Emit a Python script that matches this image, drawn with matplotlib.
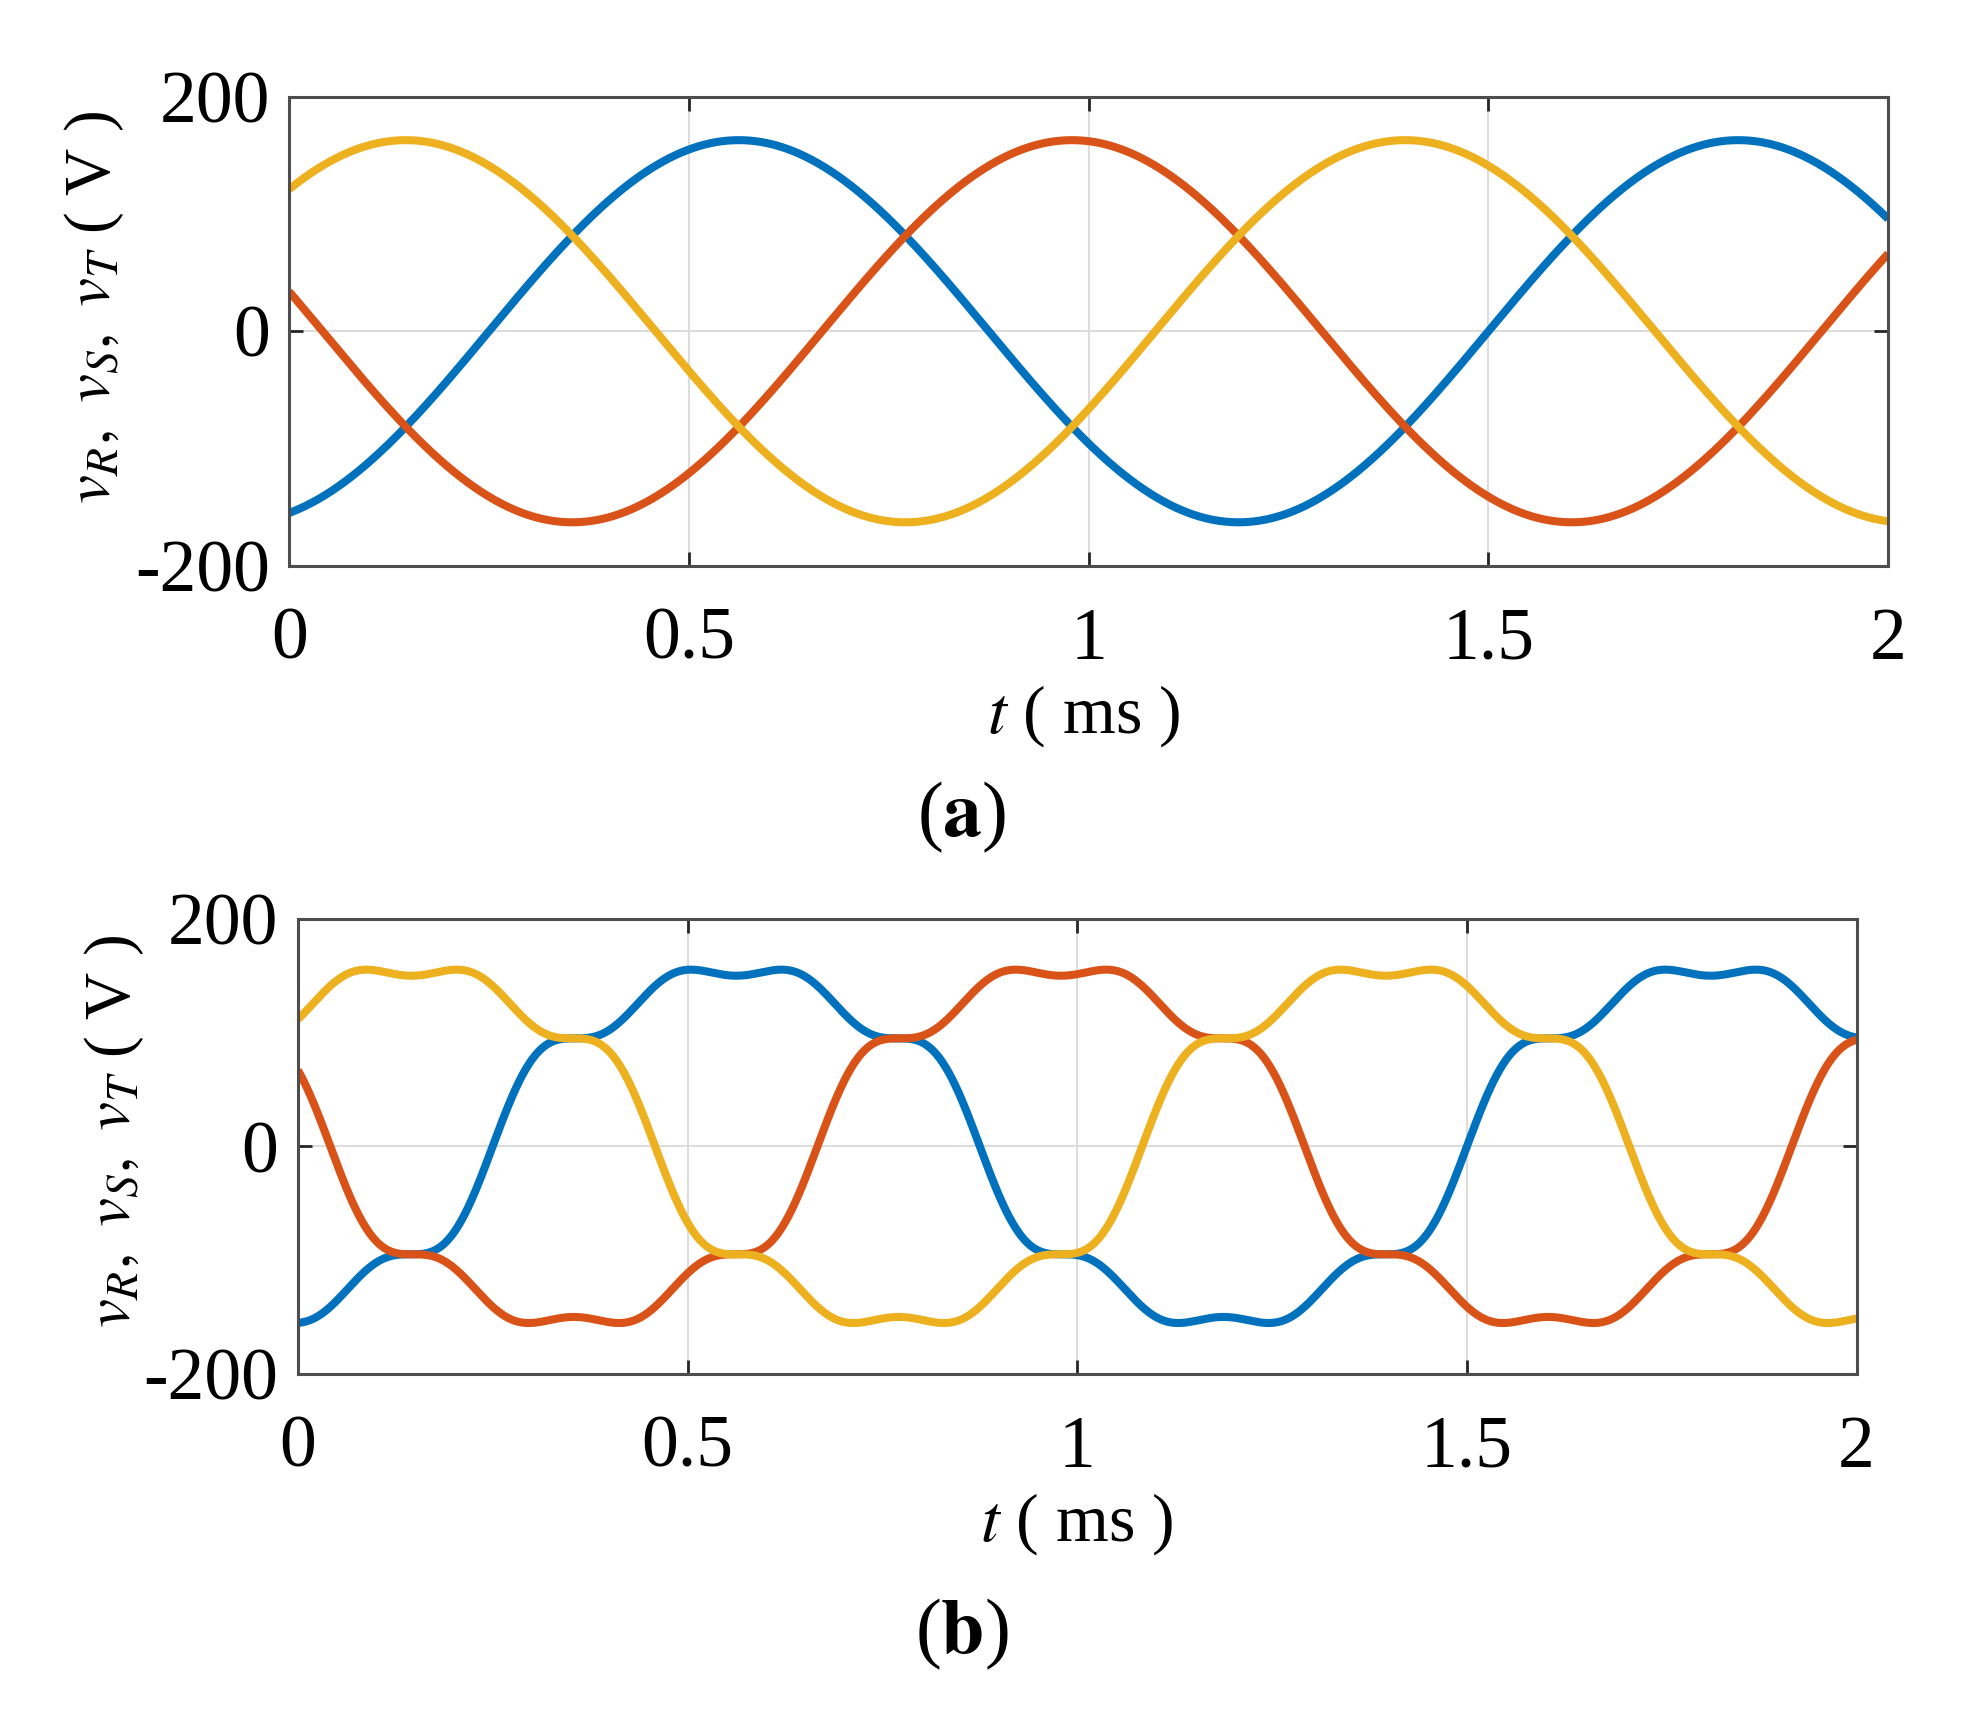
import numpy as np
import matplotlib
matplotlib.use('Agg')
import matplotlib.pyplot as plt

plt.rcParams['font.family'] = ['Liberation Serif', 'DejaVu Serif']
plt.rcParams['mathtext.fontset'] = 'stix'

# signal data
freq_khz = 0.8                       # 800 Hz fundamental, t in ms
phase_deg = [-162, -282, -42]        # R (blue), S (red), T (yellow)
harm_order = [1, 3, 5, 7]
amp_a = [163, 0, 0, 0]               # (a) pure sine
amp_b = [163.1, -13.3, 13.7, -13.5]  # (b) with low-order harmonics
colors = ['#0072BD', '#D95319', '#EDB120']

x_ticks = [0, 0.5, 1, 1.5, 2]
x_labels = ['0', '0.5', '1', '1.5', '2']
y_ticks = [-200, 0, 200]
y_labels = ['-200', '0', '200']

t = np.linspace(0, 2, 2001)


def phase_wave(amps, ph):
    th = 2 * np.pi * freq_khz * t + np.deg2rad(ph)
    return sum(a * np.cos(n * th) for n, a in zip(harm_order, amps))


fig = plt.figure(figsize=(19.71, 17.22), dpi=100)
ax1 = fig.add_axes([0.1467, 0.6715, 0.8113, 0.2723])
ax2 = fig.add_axes([0.1511, 0.2022, 0.7909, 0.2642])

for ax, amps, tag, ylc, xlc, tagy in [
        (ax1, amp_a, 'a', (-0.122, 0.55), (0.497, -0.32), 0.5255),
        (ax2, amp_b, 'b', (-0.118, 0.533), (0.5, -0.33), 0.051)]:
    for ph, c in zip(phase_deg, colors):
        ax.plot(t, phase_wave(amps, ph), color=c, lw=5.8, solid_capstyle='butt')
    ax.set_xlim(0, 2)
    ax.set_ylim(-200, 200)
    ax.set_xticks(x_ticks)
    ax.set_xticklabels(x_labels)
    ax.set_yticks(y_ticks)
    ax.set_yticklabels(y_labels)
    ax.grid(True, color='#dcdcdc', lw=1.5)
    ax.set_axisbelow(True)
    ax.tick_params(direction='in', length=10, width=2, colors='#262626',
                   labelsize=53, labelcolor='black', top=True, right=True)
    ax.tick_params(axis='x', pad=30)
    ax.tick_params(axis='y', pad=14)
    for s in ax.spines.values():
        s.set_color('#4d4d4d')
        s.set_linewidth(2.2)
    ax.set_ylabel(r'$v_{R},\ v_{S},\ v_{T}$ ( V )', fontsize=47)
    ax.yaxis.set_label_coords(*ylc)
    ax.yaxis.label.set_va('center')
    ax.set_xlabel(r'$t$ ( ms )', fontsize=49)
    ax.xaxis.set_label_coords(*xlc)
    ax.xaxis.label.set_va('center')
    fig.text(0.488, tagy, '(' + r'$\mathbf{' + tag + '}$' + ')', fontsize=56,
             ha='center', va='center')

fig.savefig('out.png', dpi=100)
